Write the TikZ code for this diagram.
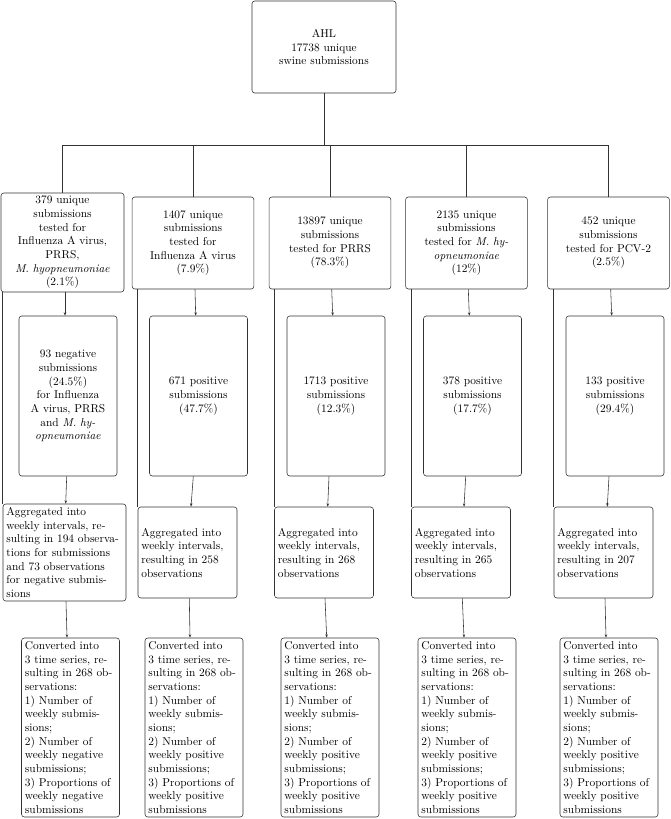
\documentclass[tikz,border=0pt]{standalone}
\usetikzlibrary{arrows.meta}
\begin{document}
\begin{tikzpicture}[x=0.878pt,y=-0.878pt]
\tikzset{
  bx/.style={draw=black!80, line width=0.5pt, rounded corners=2.5pt, inner xsep=3pt, inner ysep=1pt, font=\fontsize{10}{12}\selectfont},
  ctr/.style={bx, align=center},
  lft/.style={bx, align=left},
  arr/.style={draw=black!80, line width=0.5pt, -{Stealth[length=3pt,width=2.2pt]}},
  ln/.style={draw=black!80, line width=0.5pt},
  lone/.style={ctr, text width=101pt, minimum height=80.8pt},
  ltwo/.style={ctr, text width=80pt, minimum height=140.5pt},
  lthree/.style={lft, text width=80.9pt, minimum height=79.9pt},
  lfour/.style={lft, text width=80pt, minimum height=157.2pt},
}
\useasboundingbox (0,0) rectangle (671,819);
\coordinate (bus) at (0,145);

% root
\node[ctr, text width=120.4pt, minimum height=80.8pt] (root) at (324,47) {AHL\\17738 unique\\swine submissions};

% level 1
\node[ctr, text width=102pt, minimum height=86.9pt] (a1) at (62.5,242.5) {379 unique\\submissions\\tested for\\Influenza A virus,\\PRRS,\\\emph{M. hyopneumoniae}\\(2.1\%)};
\node[lone] (a2) at (193,243) {1407 unique\\submissions\\tested for\\Influenza A virus\\(7.9\%)};
\node[lone] (a3) at (330,243) {13897 unique\\submissions\\tested for PRRS\\(78.3\%)};
\node[lone] (a4) at (466.5,243) {2135 unique\\submissions\\tested for \emph{M. hy-}\\\emph{opneumoniae}\\(12\%)};
\node[lone] (a5) at (608.5,243) {452 unique\\submissions\\tested for PCV-2\\(2.5\%)};

% level 2
\node[ltwo] (b1) at (68,396) {93 negative\\submissions\\(24.5\%)\\for Influenza\\A virus, PRRS\\and \emph{M. hy-}\\\emph{opneumoniae}};
\node[ltwo] (b2) at (198.5,396) {671 positive\\submissions\\(47.7\%)};
\node[ltwo] (b3) at (336,396) {1713 positive\\submissions\\(12.3\%)};
\node[ltwo] (b4) at (472.5,396) {378 positive\\submissions\\(17.7\%)};
\node[ltwo] (b5) at (615,396) {133 positive\\submissions\\(29.4\%)};

% level 3
\node[lft, text width=102pt, minimum height=85.2pt] (c1) at (64.5,552.5) {Aggregated into\\weekly intervals, re-\\sulting in 194 observa-\\tions for submissions\\and 73 observations\\for negative submis-\\sions};
\node[lthree] (c2) at (187.5,552.5) {Aggregated into\\weekly intervals,\\resulting in 258\\observations};
\node[lthree] (c3) at (324,552.5) {Aggregated into\\weekly intervals,\\resulting in 268\\observations};
\node[lthree] (c4) at (461,552.5) {Aggregated into\\weekly intervals,\\resulting in 265\\observations};
\node[lthree] (c5) at (603.5,552.5) {Aggregated into\\weekly intervals,\\resulting in 207\\observations};

% level 4
\node[lfour] (d1) at (70.5,727.5) {Converted into\\3 time series, re-\\sulting in 268 ob-\\servations:\\1) Number of\\weekly submis-\\sions;\\2) Number of\\weekly negative\\submissions;\\3) Proportions of\\weekly negative\\submissions};
\node[lfour] (d2) at (194,727.5) {Converted into\\3 time series, re-\\sulting in 268 ob-\\servations:\\1) Number of\\weekly submis-\\sions;\\2) Number of\\weekly positive\\submissions;\\3) Proportions of\\weekly positive\\submissions};
\node[lfour] (d3) at (330,727.5) {Converted into\\3 time series, re-\\sulting in 268 ob-\\servations:\\1) Number of\\weekly submis-\\sions;\\2) Number of\\weekly positive\\submissions;\\3) Proportions of\\weekly positive\\submissions};
\node[lfour] (d4) at (467,727.5) {Converted into\\3 time series, re-\\sulting in 268 ob-\\servations:\\1) Number of\\weekly submis-\\sions;\\2) Number of\\weekly positive\\submissions;\\3) Proportions of\\weekly positive\\submissions};
\node[lfour] (d5) at (609,727.5) {Converted into\\3 time series, re-\\sulting in 268 ob-\\servations:\\1) Number of\\weekly submis-\\sions;\\2) Number of\\weekly positive\\submissions;\\3) Proportions of\\weekly positive\\submissions};

% tree connectors
\draw[ln] (root.south) -- (root.south |- bus);
\draw[ln] (a1.north) -- (a1.north |- bus) -- (a5.north |- bus) -- (a5.north);
\foreach \i in {2,3,4}{
  \draw[ln] (a\i.north) -- (a\i.north |- bus);
}
% arrows: column, x at parent bottom, x at child top
\foreach \i/\pa/\pb/\qa/\qb/\ra/\rb in {
  1/65/65/66.7/65.7/66/67,
  2/195/195.7/193.3/191/189.3/190,
  3/331.7/332.7/329/327.7/325/326.7,
  4/468.3/469.3/465.7/464/462.3/464,
  5/610.7/611.7/609/607.3/605/606}{
  \draw[arr] (a\i.south -| \pa,0) -- (b\i.north -| \pb,0);
  \draw[arr] (b\i.south -| \qa,0) -- (c\i.north -| \qb,0);
  \draw[arr] (c\i.south -| \ra,0) -- (d\i.north -| \rb,0);
  \draw[ln] (c\i.north west) -- (c\i.north west |- a\i.south);
}
\end{tikzpicture}
\end{document}
